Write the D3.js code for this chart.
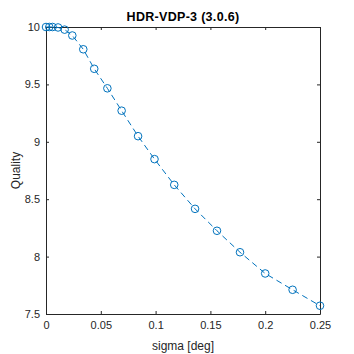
<!DOCTYPE html>
<html>
<head>
<meta charset="utf-8">
<script src="https://cdn.jsdelivr.net/npm/d3@7"></script>
<style>
  body { margin: 0; background: #fff; }
  svg { display: block; font-family: "Liberation Sans", Arial, sans-serif; }
</style>
</head>
<body>
<svg id="chart" width="354" height="354"></svg>
<script>
// sigma [deg] vs quality
var sigma = [0, 0.003, 0.006, 0.011, 0.017, 0.024, 0.034, 0.044, 0.056, 0.069, 0.084, 0.099, 0.117, 0.136, 0.156, 0.177, 0.2, 0.225, 0.25];
var quality = [10, 10, 10, 9.996, 9.977, 9.926, 9.806, 9.636, 9.466, 9.271, 9.049, 8.849, 8.625, 8.416, 8.225, 8.038, 7.853, 7.711, 7.572];
var xTicks = [0, 0.05, 0.1, 0.15, 0.2, 0.25];
var yTicks = [7.5, 8, 8.5, 9, 9.5, 10];

var box = { left: 46, right: 320, top: 27, bottom: 314 };
var axisColor = '#262626';
var lineColor = '#0072BD';

var svg = d3.select('#chart');

var x = d3.scaleLinear().domain([0, 0.25]).range([box.left, box.right]);
var y = d3.scaleLinear().domain([7.5, 10]).range([box.bottom, box.top]);

// box axes, ticks inside like matlab
function styleAxis(g) {
  g.selectAll('path').attr('stroke', axisColor).attr('stroke-width', 1);
  g.selectAll('line').attr('stroke', axisColor).attr('stroke-width', 1);
  g.selectAll('text').attr('fill', axisColor).style('font-size', '11px')
    .style('font-family', '"Liberation Sans", Arial, sans-serif');
}

var xAxis = svg.append('g').attr('transform', 'translate(0,' + box.bottom + ')')
  .call(d3.axisBottom(x).tickValues(xTicks).tickSize(-3).tickSizeOuter(0).tickPadding(7).tickFormat(d3.format('')));
styleAxis(xAxis);

var xTop = svg.append('g').attr('transform', 'translate(0,' + box.top + ')')
  .call(d3.axisTop(x).tickValues(xTicks).tickSize(-3).tickSizeOuter(0).tickFormat(''));
styleAxis(xTop);

var yAxis = svg.append('g').attr('transform', 'translate(' + box.left + ',0)')
  .call(d3.axisLeft(y).tickValues(yTicks).tickSize(-3).tickSizeOuter(0).tickPadding(6).tickFormat(d3.format('')));
styleAxis(yAxis);

var yRight = svg.append('g').attr('transform', 'translate(' + box.right + ',0)')
  .call(d3.axisRight(y).tickValues(yTicks).tickSize(-3).tickSizeOuter(0).tickFormat(''));
styleAxis(yRight);

// the series
var pts = sigma.map(function (s, i) { return [s, quality[i]]; });

var line = d3.line().x(function (d) { return x(d[0]); }).y(function (d) { return y(d[1]); });

svg.append('path')
  .datum(pts)
  .attr('d', line)
  .attr('fill', 'none')
  .attr('stroke', lineColor)
  .attr('stroke-width', 1)
  .attr('stroke-dasharray', '6,4');

svg.selectAll('.marker').data(pts).enter().append('circle')
  .attr('class', 'marker')
  .attr('cx', function (d) { return x(d[0]); })
  .attr('cy', function (d) { return y(d[1]); })
  .attr('r', 3.8)
  .attr('fill', 'none')
  .attr('stroke', lineColor)
  .attr('stroke-width', 1);

// labels
svg.append('text')
  .attr('x', (box.left + box.right) / 2)
  .attr('y', 21)
  .attr('text-anchor', 'middle')
  .attr('fill', '#000')
  .style('font-size', '12.5px')
  .style('letter-spacing', '0.3px')
  .style('font-weight', 'bold')
  .text('HDR-VDP-3 (3.0.6)');

svg.append('text')
  .attr('x', (box.left + box.right) / 2)
  .attr('y', 350)
  .attr('text-anchor', 'middle')
  .attr('fill', axisColor)
  .style('font-size', '12px')
  .text('sigma [deg]');

svg.append('text')
  .attr('transform', 'translate(20,' + (box.top + box.bottom) / 2 + ') rotate(-90)')
  .attr('text-anchor', 'middle')
  .attr('fill', axisColor)
  .style('font-size', '12px')
  .text('Quality');
</script>
</body>
</html>
